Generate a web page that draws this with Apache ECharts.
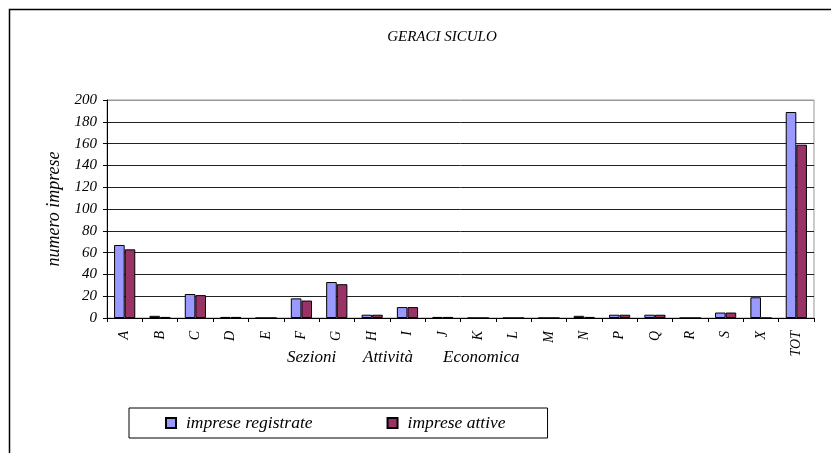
<!DOCTYPE html>
<html>
<head>
<meta charset="utf-8">
<script src="https://cdn.jsdelivr.net/npm/echarts@6/dist/echarts.min.js"></script>
<style>html,body{margin:0;padding:0;background:#fff;}#c{width:831px;height:453px;}</style>
</head>
<body>
<div id="c"></div>
<script>
const categories = ['A','B','C','D','E','F','G','H','I','J','K','L','M','N','P','Q','R','S','X','TOT'];
const registrate = [67,2,22,1,0,18,33,3,10,1,0,0,0,2,3,3,0,5,19,189];
const attive = [63,1,21,1,0,16,31,3,10,1,0,0,0,1,3,3,0,5,0,159];
const yTicks = [0,20,40,60,80,100,120,140,160,180,200];
const xAxisWords = ['Sezioni','Attività','Economica'];
const FONT = '"Liberation Serif", "DejaVu Serif", serif';

const wordX = [287, 363, 443];
const gridColors = yTicks.map(function(v,i){ return i === yTicks.length-1 ? '#999' : '#222'; });
const chart = echarts.init(document.getElementById('c'), null, {renderer:'canvas'});
chart.setOption({
  animation:false,
  backgroundColor:'#fff',
  title:{
    text:'GERACI SICULO', left:437, top:25, textAlign:'center',
    textStyle:{fontFamily:FONT, fontStyle:'italic', fontWeight:'normal', fontSize:15, color:'#000'}
  },
  graphic:[
    {type:'rect', shape:{x:9.5,y:9.5,width:900,height:500}, style:{fill:null, stroke:'#000', lineWidth:1.5}, z:-1}
  ].concat(xAxisWords.map(function(w,i){
    return {type:'text', left:wordX[i], top:349, style:{text:w, fontFamily:FONT, fontStyle:'italic', fontSize:17, fill:'#000'}};
  })),
  legend:{
    left:129, top:408,
    padding:[6,42,6,36],
    borderColor:'#000', borderWidth:1,
    icon:'rect',
    itemWidth:10, itemHeight:10, itemGap:74,
    textStyle:{fontFamily:FONT, fontStyle:'italic', fontSize:17.5, color:'#000', padding:[0,0,0,5]},
    data:['imprese registrate','imprese attive']
  },
  grid:{left:107, right:17, top:100, bottom:135, containLabel:false, show:true, borderColor:'#999', borderWidth:1},
  xAxis:{
    type:'category', data:categories,
    axisLine:{lineStyle:{color:'#000', width:1}},
    axisTick:{show:true, length:4, lineStyle:{color:'#000'}},
    axisLabel:{rotate:90, fontFamily:FONT, fontStyle:'italic', fontSize:14, color:'#000', margin:13}
  },
  yAxis:{
    type:'value', min:0, max:200, interval:20,
    name:'numero imprese', nameLocation:'middle', nameGap:44,
    nameTextStyle:{fontFamily:FONT, fontStyle:'italic', fontSize:18, color:'#000'},
    axisLine:{show:true, lineStyle:{color:'#000'}},
    axisTick:{show:true, length:4, lineStyle:{color:'#000'}},
    axisLabel:{fontFamily:FONT, fontStyle:'italic', fontSize:15, color:'#000', margin:10,
      formatter:function(v){return yTicks.indexOf(v)>=0 ? String(v) : '';}},
    splitLine:{show:true, lineStyle:{color:gridColors, width:1}}
  },
  series:[
    {name:'imprese registrate', type:'bar', data:registrate, barGap:'0%', barCategoryGap:'40%',
     itemStyle:{color:'#9999FF', borderColor:'#000', borderWidth:1}},
    {name:'imprese attive', type:'bar', data:attive,
     itemStyle:{color:'#993366', borderColor:'#000', borderWidth:1}}
  ]
});
</script>
</body>
</html>
